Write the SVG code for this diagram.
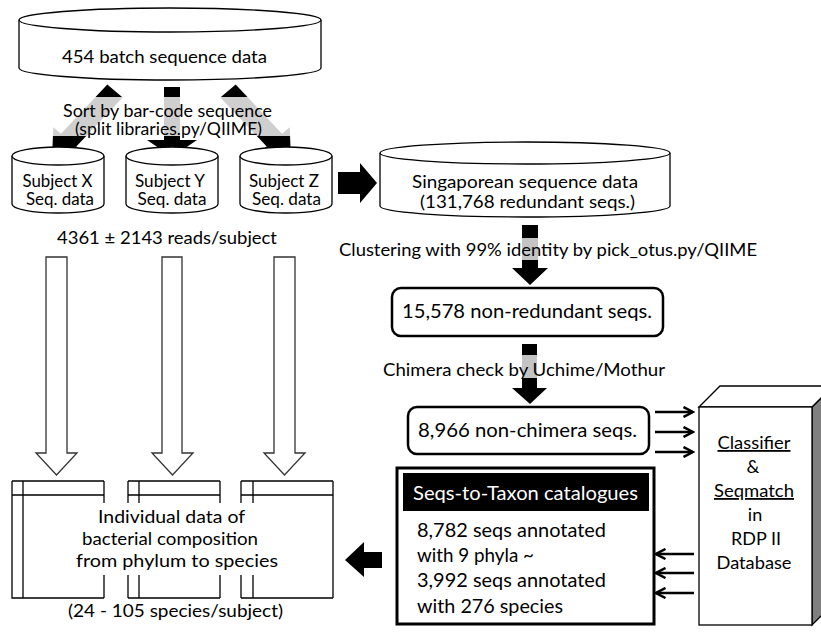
<svg xmlns="http://www.w3.org/2000/svg" width="821" height="634" viewBox="0 0 821 634">
<style>
text{font-family:Lato,"Liberation Sans",sans-serif;fill:#000;}
.t{font-size:18px;}
.s{font-size:17px;}
.b{font-size:20px;}
.m{text-anchor:middle;}
.ln{fill:none;stroke:#000;stroke-width:1.3;}
.cyl{fill:#fff;stroke:#000;stroke-width:1.3;}
.hol{fill:#fff;stroke:#333;stroke-width:1.3;}
.rb{fill:#fff;stroke:#000;stroke-width:2.5;}
.thin{fill:none;stroke:#000;stroke-width:2.5;marker-end:url(#chev);}
.wt{fill:#fff;}
</style>
<defs>
<linearGradient id="gA" gradientUnits="userSpaceOnUse" x1="0" y1="80" x2="0" y2="165">
<stop offset="0" stop-color="#000"/><stop offset="0.2" stop-color="#000"/><stop offset="0.2" stop-color="#cfcfcf"/><stop offset="0.659" stop-color="#cfcfcf"/><stop offset="0.659" stop-color="#000"/><stop offset="1" stop-color="#000"/>
</linearGradient>
<linearGradient id="gB" gradientUnits="userSpaceOnUse" x1="0" y1="225" x2="0" y2="285">
<stop offset="0" stop-color="#000"/><stop offset="0.217" stop-color="#000"/><stop offset="0.217" stop-color="#c4c4c4"/><stop offset="0.583" stop-color="#c4c4c4"/><stop offset="0.583" stop-color="#000"/><stop offset="1" stop-color="#000"/>
</linearGradient>
<linearGradient id="gC" gradientUnits="userSpaceOnUse" x1="0" y1="344" x2="0" y2="404">
<stop offset="0" stop-color="#000"/><stop offset="0.183" stop-color="#000"/><stop offset="0.183" stop-color="#c4c4c4"/><stop offset="0.567" stop-color="#c4c4c4"/><stop offset="0.567" stop-color="#000"/><stop offset="1" stop-color="#000"/>
</linearGradient>
<marker id="chev" viewBox="0 0 12 12" refX="10.5" refY="6" markerWidth="12" markerHeight="12" markerUnits="userSpaceOnUse" orient="auto">
<path d="M1,1 L10.5,6 L1,11" fill="none" stroke="#000" stroke-width="2.5"/>
</marker>
</defs>
<rect width="821" height="634" fill="#fff"/>

<g id="connectors">
<polygon fill="url(#gA)" points="107.32,84.6 122.68,97.4 76.32,146.43 84,152.83 52,160 53.28,127.23 60.96,133.63"/>
<polygon fill="url(#gA)" points="164,87 180,87 180,140 197,140 172,157 147,140 164,140"/>
<polygon fill="url(#gA)" points="235.68,84.6 220.32,97.4 266.68,146.43 259,152.83 291,160 289.72,127.23 282.04,133.63"/>
<polygon fill="#000" points="338,172 360,172 360,163 377,183 360,203 360,194 338,194"/>
<polygon fill="url(#gB)" points="522,225 538,225 538,268 548,268 530,285 512,268 522,268"/>
<polygon fill="url(#gC)" points="522,344 537,344 537,388 547,388 530,404 512,388 522,388"/>
<polygon class="hol" points="46,257 67,257 67,453 77,453 56.5,475 36,453 46,453"/>
<polygon class="hol" points="162,257 182,257 182,453 193,453 172.5,475 152,453 162,453"/>
<polygon class="hol" points="274,257 295,257 295,453 305,453 284.5,475 264,453 274,453"/>
<line class="thin" x1="655" y1="412" x2="693" y2="412"/>
<line class="thin" x1="655" y1="432" x2="693" y2="432"/>
<line class="thin" x1="655" y1="452" x2="693" y2="452"/>
<line class="thin" x1="694" y1="554" x2="656" y2="554"/>
<line class="thin" x1="694" y1="573" x2="656" y2="573"/>
<line class="thin" x1="694" y1="593" x2="656" y2="593"/>
<polygon fill="#000" points="382,552 364,552 364,542 345,560 364,577 364,568 382,568"/>
</g>

<g id="n454">
<path class="cyl" d="M19,20 V68 A151,12 0 0 0 321,68 V20"/>
<ellipse class="cyl" cx="170" cy="20" rx="151" ry="12"/>
<text class="t m" x="164.5" y="63" textLength="205" lengthAdjust="spacingAndGlyphs">454 batch sequence data</text>
</g>

<text class="s m" x="167.5" y="117" textLength="209" lengthAdjust="spacingAndGlyphs">Sort by bar-code sequence</text>
<text class="s m" x="168.5" y="135" textLength="187" lengthAdjust="spacingAndGlyphs">(split libraries.py/QIIME)</text>

<g id="subjX">
<path class="cyl" d="M12,156 V204 A46,9 0 0 0 104,204 V156"/>
<ellipse class="cyl" cx="58" cy="156" rx="46" ry="9"/>
<text class="s m" x="57.5" y="186.5" textLength="70" lengthAdjust="spacingAndGlyphs">Subject X</text>
<text class="s m" x="60" y="204.5" textLength="68" lengthAdjust="spacingAndGlyphs">Seq. data</text>
</g>
<g id="subjY">
<path class="cyl" d="M126,156 V204 A46,9 0 0 0 218,204 V156"/>
<ellipse class="cyl" cx="172" cy="156" rx="46" ry="9"/>
<text class="s m" x="170" y="186.5" textLength="70" lengthAdjust="spacingAndGlyphs">Subject Y</text>
<text class="s m" x="172" y="204.5" textLength="69" lengthAdjust="spacingAndGlyphs">Seq. data</text>
</g>
<g id="subjZ">
<path class="cyl" d="M240,156 V204 A46,9 0 0 0 332,204 V156"/>
<ellipse class="cyl" cx="286" cy="156" rx="46" ry="9"/>
<text class="s m" x="284" y="186.5" textLength="70" lengthAdjust="spacingAndGlyphs">Subject Z</text>
<text class="s m" x="286.5" y="204.5" textLength="69" lengthAdjust="spacingAndGlyphs">Seq. data</text>
</g>

<g id="sing">
<path class="cyl" d="M380,153 V206 A145,11 0 0 0 670,206 V153"/>
<ellipse class="cyl" cx="525" cy="153" rx="145" ry="11"/>
<text class="t m" x="525" y="188" textLength="226" lengthAdjust="spacingAndGlyphs">Singaporean sequence data</text>
<text class="t m" x="527.5" y="208" textLength="215" lengthAdjust="spacingAndGlyphs">(131,768 redundant seqs.)</text>
</g>

<text class="t m" x="167" y="244" textLength="220" lengthAdjust="spacingAndGlyphs">4361 ± 2143 reads/subject</text>
<text class="t m" x="548" y="256" textLength="418" lengthAdjust="spacingAndGlyphs">Clustering with 99% identity by pick_otus.py/QIIME</text>

<g id="nr15578">
<rect class="rb" x="392" y="288" width="271" height="48" rx="9"/>
<text class="b m" x="527" y="318" textLength="250" lengthAdjust="spacingAndGlyphs">15,578 non-redundant seqs.</text>
</g>

<text class="t m" x="524" y="376" textLength="282" lengthAdjust="spacingAndGlyphs">Chimera check by Uchime/Mothur</text>

<g id="nc8966">
<rect class="rb" x="408" y="407" width="241" height="47" rx="9"/>
<text class="b m" x="527.5" y="437" textLength="219" lengthAdjust="spacingAndGlyphs">8,966 non-chimera seqs.</text>
</g>

<g id="db">
<polygon fill="#808080" stroke="#000" stroke-width="1.3" points="812,407 833,386 833,604 812,625"/>
<polygon fill="#fff" stroke="#000" stroke-width="1.3" points="699,407 720,386 833,386 812,407"/>
<rect x="699" y="407" width="113" height="218" fill="#fff" stroke="#000" stroke-width="1.3"/>
<text class="t m" x="754" y="449" text-decoration="underline" textLength="73" lengthAdjust="spacingAndGlyphs">Classifier</text>
<text class="t m" x="753" y="473">&amp;</text>
<text class="t m" x="754" y="497" text-decoration="underline" textLength="80" lengthAdjust="spacingAndGlyphs">Seqmatch</text>
<text class="t m" x="755" y="521">in</text>
<text class="t m" x="756" y="545">RDP II</text>
<text class="t m" x="754" y="569" textLength="75" lengthAdjust="spacingAndGlyphs">Database</text>
</g>

<g id="seqs">
<rect x="397" y="468" width="257" height="156" fill="#fff" stroke="#000" stroke-width="3"/>
<rect x="403" y="473" width="246" height="38" fill="#000"/>
<text class="b m wt" x="525.5" y="500" textLength="225" lengthAdjust="spacingAndGlyphs">Seqs-to-Taxon catalogues</text>
<text class="b" x="417" y="537" textLength="189" lengthAdjust="spacingAndGlyphs">8,782 seqs annotated</text>
<text class="b" x="417" y="562" textLength="117" lengthAdjust="spacingAndGlyphs">with 9 phyla ~</text>
<text class="b" x="417" y="587" textLength="189" lengthAdjust="spacingAndGlyphs">3,992 seqs annotated</text>
<text class="b" x="417" y="613" textLength="146" lengthAdjust="spacingAndGlyphs">with 276 species</text>
</g>

<g id="indiv">
<path class="ln" d="M12,481 H104 M12,495 H104 M12,481 V598 H104 M23,481 V598 M104,481 V503 M104,575 V598"/>
<path class="ln" d="M128,481 H220 M128,495 H220 M128,598 H220 M128,481 V503 M128,575 V598 M139,481 V503 M139,575 V598 M220,481 V503 M220,575 V598"/>
<path class="ln" d="M241,481 H333 M241,495 H333 M241,598 H333 M241,481 V503 M241,575 V598 M253,481 V503 M253,575 V598 M333,481 V598"/>
<text class="t m" x="171.5" y="523" textLength="147" lengthAdjust="spacingAndGlyphs">Individual data of</text>
<text class="t m" x="170" y="545" textLength="176" lengthAdjust="spacingAndGlyphs">bacterial composition</text>
<text class="t m" x="177" y="567" textLength="202" lengthAdjust="spacingAndGlyphs">from phylum to species</text>
</g>

<text class="t m" x="175.5" y="617" textLength="215" lengthAdjust="spacingAndGlyphs">(24 - 105 species/subject)</text>
</svg>
